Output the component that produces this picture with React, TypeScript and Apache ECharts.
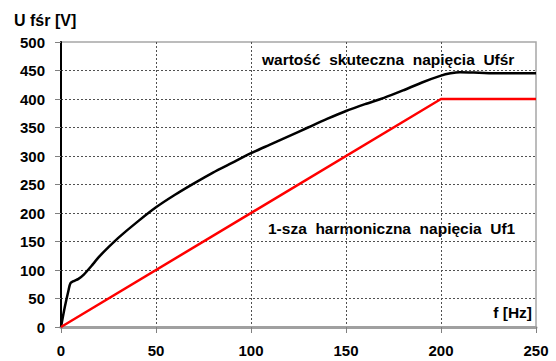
import React, { useEffect, useRef } from "react";
import * as echarts from "echarts";

const freqRms = [0, 2, 4, 5, 7, 9, 12, 16, 20, 25, 30, 40, 50, 60, 70, 80, 90, 100, 110, 120, 130, 140, 150, 160, 170, 180, 190, 200, 205, 210, 220, 230, 240, 250];
const voltRms = [0, 35, 65, 77, 81, 84, 92, 107, 123, 140, 156, 184, 210, 232, 252, 271, 288, 305, 320, 335, 350, 365, 379, 391, 402, 415, 429, 441, 445, 447, 446, 445, 445, 445];
const freqH1 = [0, 200, 250];
const voltH1 = [0, 400, 400];

const xTicks = { min: 0, max: 250, interval: 50 };
const yTicks = { min: 0, max: 500, interval: 50 };

const yTitle = "U fśr [V]";
const xTitle = "f [Hz]";
const labelRms = "wartość  skuteczna  napięcia  Ufśr";
const labelH1 = "1-sza  harmoniczna  napięcia  Uf1";

const FONT = "Liberation Sans";

export default function App() {
  const ref = useRef<HTMLDivElement>(null);
  useEffect(() => {
    document.body.style.margin = "0";
    if (!ref.current) return;
    const chart = echarts.init(ref.current, null, { renderer: "svg" });
    const axisLabel = { color: "#000", fontWeight: "bold" as const, fontSize: 15, fontFamily: FONT, margin: 16 };
    const txt = (size: number) => ({ fontFamily: FONT, fontWeight: "bold", fontSize: size, fill: "#000" });
    chart.setOption({
      animation: false,
      backgroundColor: "#fff",
      grid: { left: 61, right: 20, top: 42, bottom: 34, show: true, borderColor: "#a6a6a6", borderWidth: 1.5, containLabel: false },
      xAxis: {
        type: "value",
        min: xTicks.min,
        max: xTicks.max,
        interval: xTicks.interval,
        axisLine: { show: true, lineStyle: { color: "#a0a0a0", width: 3 } },
        axisTick: { show: true, length: 6, lineStyle: { color: "#808080", width: 1 } },
        axisLabel,
        splitLine: { show: true, showMinLine: false, showMaxLine: false, lineStyle: { color: "#505050", width: 1, type: [2, 2] } },
      },
      yAxis: {
        type: "value",
        min: yTicks.min,
        max: yTicks.max,
        interval: yTicks.interval,
        axisLine: { show: true, lineStyle: { color: "#000", width: 2 } },
        axisTick: { show: true, length: 6, lineStyle: { color: "#808080", width: 1 } },
        axisLabel,
        splitLine: { show: true, showMinLine: false, showMaxLine: false, lineStyle: { color: "#505050", width: 1, type: [2, 2] } },
      },
      series: [
        {
          type: "line",
          data: freqRms.map((f, i) => [f, voltRms[i]]),
          showSymbol: false,
          smooth: 0.25,
          lineStyle: { color: "#000", width: 2.5 },
          z: 3,
        },
        {
          type: "line",
          data: freqH1.map((f, i) => [f, voltH1[i]]),
          showSymbol: false,
          lineStyle: { color: "#ff0000", width: 2.5 },
          z: 4,
        },
      ],
      graphic: [
        { type: "text", x: 14, y: 20, style: { text: yTitle, ...txt(16), align: "left", verticalAlign: "middle" } },
        { type: "text", x: 532, y: 312, style: { text: xTitle, ...txt(15.5), align: "right", verticalAlign: "middle" } },
        { type: "text", x: 262, y: 59, style: { text: labelRms, ...txt(15.5), align: "left", verticalAlign: "middle" } },
        { type: "text", x: 268, y: 228, style: { text: labelH1, ...txt(15.5), align: "left", verticalAlign: "middle" } },
      ],
    });
    return () => chart.dispose();
  }, []);
  return <div ref={ref} style={{ width: 556, height: 361 }} />;
}
